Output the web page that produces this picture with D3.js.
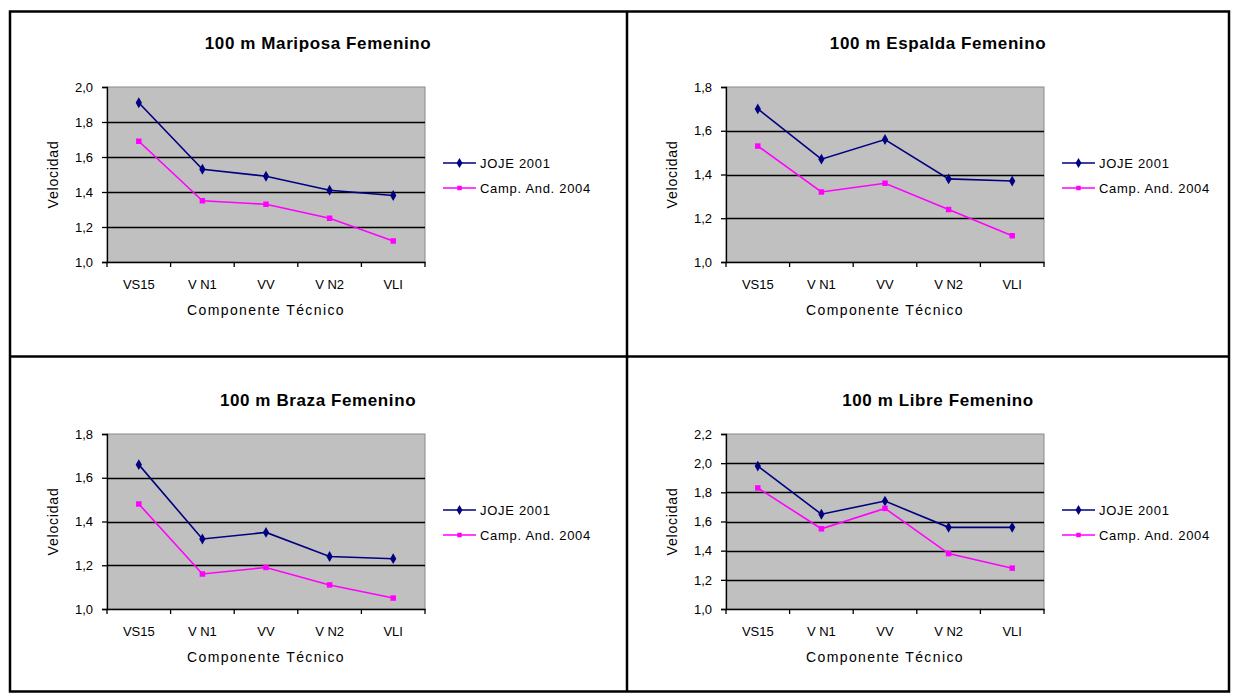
<!DOCTYPE html>
<html>
<head>
<meta charset="utf-8">
<script src="https://cdn.jsdelivr.net/npm/d3@7/dist/d3.min.js"></script>
<style>
  html, body { margin: 0; padding: 0; background: #fff; }
  svg { display: block; font-family: "Liberation Sans", Arial, sans-serif; }
</style>
</head>
<body>
<svg id="chart" width="1236" height="699"></svg>
<script>
// Technical component categories (x axis)
const categories = ["VS15", "V N1", "VV", "V N2", "VLI"];
const seriesNames = ["JOJE 2001", "Camp. And. 2004"];

// 100 m Mariposa Femenino
const mariposaJoje = [1.91, 1.53, 1.49, 1.41, 1.38];
const mariposaCamp = [1.69, 1.35, 1.33, 1.25, 1.12];
// 100 m Espalda Femenino
const espaldaJoje = [1.70, 1.47, 1.56, 1.38, 1.37];
const espaldaCamp = [1.53, 1.32, 1.36, 1.24, 1.12];
// 100 m Braza Femenino
const brazaJoje = [1.66, 1.32, 1.35, 1.24, 1.23];
const brazaCamp = [1.48, 1.16, 1.19, 1.11, 1.05];
// 100 m Libre Femenino
const libreJoje = [1.98, 1.65, 1.74, 1.56, 1.56];
const libreCamp = [1.83, 1.55, 1.69, 1.38, 1.28];

// y-axis tick labels for each chart
const ticksMariposa = [1.0, 1.2, 1.4, 1.6, 1.8, 2.0];
const ticksEspalda = [1.0, 1.2, 1.4, 1.6, 1.8];
const ticksBraza = [1.0, 1.2, 1.4, 1.6, 1.8];
const ticksLibre = [1.0, 1.2, 1.4, 1.6, 1.8, 2.0, 2.2];

const titles = ["100 m Mariposa Femenino", "100 m Espalda Femenino",
                "100 m Braza Femenino", "100 m Libre Femenino"];

const charts = [
  { title: titles[0], joje: mariposaJoje, camp: mariposaCamp, ticks: ticksMariposa, col: 0, row: 0 },
  { title: titles[1], joje: espaldaJoje, camp: espaldaCamp, ticks: ticksEspalda, col: 1, row: 0 },
  { title: titles[2], joje: brazaJoje, camp: brazaCamp, ticks: ticksBraza, col: 0, row: 1 },
  { title: titles[3], joje: libreJoje, camp: libreCamp, ticks: ticksLibre, col: 1, row: 1 }
];

const colors = ["#000080", "#ff00ff"];
const svg = d3.select("#chart");
const comma = v => d3.format(".1f")(v).replace(".", ",");

// Layout of the 2x2 table
const colX = [107, 726];
const rowY = [87, 434];
const plotW = 318, plotH = 175;
const titleY = [43, 400];

charts.forEach(c => {
  const x0 = colX[c.col], y0 = rowY[c.row];
  const g = svg.append("g").attr("transform", `translate(${x0},${y0})`);

  const x = d3.scaleBand().domain(categories).range([0, plotW]).paddingInner(0).paddingOuter(0);
  const y = d3.scaleLinear().domain(d3.extent(c.ticks)).range([plotH, 0]);

  // plot area
  g.append("rect").attr("x", 0).attr("y", 0).attr("width", plotW).attr("height", plotH)
    .attr("fill", "#c0c0c0").attr("stroke", "#8a8a8a").attr("stroke-width", 1);

  // horizontal gridlines
  g.append("g").selectAll("line").data(c.ticks.slice(1, -1)).join("line")
    .attr("x1", 0).attr("x2", plotW)
    .attr("y1", d => Math.round(y(d)) + 0.5).attr("y2", d => Math.round(y(d)) + 0.5)
    .attr("stroke", "#000").attr("stroke-width", 1.3);

  // y axis
  const ya = g.append("g").call(d3.axisLeft(y).tickValues(c.ticks).tickSize(5).tickPadding(9).tickFormat(comma));
  ya.select(".domain").attr("stroke", "#000").attr("stroke-width", 1.3);
  ya.selectAll(".tick line").attr("stroke", "#000").attr("stroke-width", 1.3);
  ya.selectAll("text").attr("font-size", 13).attr("fill", "#000").attr("font-family", "Liberation Sans, Arial, sans-serif");

  // x axis with ticks on category boundaries
  const xa = g.append("g").attr("transform", `translate(0,${plotH})`)
    .call(d3.axisBottom(x).tickSize(0).tickPadding(18));
  xa.select(".domain").attr("stroke", "#000").attr("stroke-width", 1.3);
  xa.selectAll("text").attr("font-size", 13).attr("fill", "#000").attr("font-family", "Liberation Sans, Arial, sans-serif");
  const bounds = categories.map(d => x(d)).concat([x(categories[categories.length - 1]) + x.bandwidth()]);
  g.append("g").selectAll("line").data(bounds).join("line")
    .attr("x1", d => d).attr("x2", d => d).attr("y1", plotH).attr("y2", plotH + 5)
    .attr("stroke", "#000").attr("stroke-width", 1.3);

  // series lines and markers
  const cx = d => x(d) + x.bandwidth() / 2;
  [c.joje, c.camp].forEach((vals, si) => {
    const pts = categories.map((cat, i) => [cx(cat), y(vals[i])]);
    g.append("path").attr("d", d3.line()(pts)).attr("fill", "none")
      .attr("stroke", colors[si]).attr("stroke-width", 1.6);
    const sym = si === 0 ? d3.symbolDiamond : d3.symbolSquare;
    const size = si === 0 ? 34 : 30;
    g.append("g").selectAll("path").data(pts).join("path")
      .attr("transform", p => `translate(${p[0]},${p[1]})`)
      .attr("d", d3.symbol().type(sym).size(size)).attr("fill", colors[si]);
  });

  // axis titles
  g.append("text").attr("transform", `translate(${-54},${plotH / 2}) rotate(-90)`)
    .attr("text-anchor", "middle").attr("dy", "0.35em").attr("font-size", 14)
    .attr("letter-spacing", 0.8).text("Velocidad");
  g.append("text").attr("x", plotW / 2).attr("y", plotH + 48).attr("text-anchor", "middle")
    .attr("dy", "0.35em").attr("font-size", 14).attr("letter-spacing", 1.4).text("Componente Técnico");

  // chart title
  svg.append("text").attr("x", c.col === 0 ? 318 : 938).attr("y", titleY[c.row])
    .attr("text-anchor", "middle").attr("dy", "0.35em").attr("font-size", 17)
    .attr("font-weight", "bold").attr("letter-spacing", 0.6).text(c.title);

  // legend
  const lx = plotW + 18, ly = 76;
  seriesNames.forEach((name, si) => {
    const yy = ly + si * 25;
    g.append("line").attr("x1", lx).attr("x2", lx + 33).attr("y1", yy).attr("y2", yy)
      .attr("stroke", colors[si]).attr("stroke-width", 1.6);
    g.append("path").attr("transform", `translate(${lx + 16.5},${yy})`)
      .attr("d", d3.symbol().type(si === 0 ? d3.symbolDiamond : d3.symbolSquare).size(si === 0 ? 30 : 20))
      .attr("fill", colors[si]);
    g.append("text").attr("x", lx + 37).attr("y", yy).attr("dy", "0.35em")
      .attr("font-size", 13).attr("letter-spacing", 0.7).text(name);
  });
});

// table borders
const border = svg.append("g").attr("stroke", "#000").attr("stroke-width", 2.5).attr("fill", "none");
border.append("rect").attr("x", 10).attr("y", 11.5).attr("width", 1219).attr("height", 680);
border.append("line").attr("x1", 627).attr("x2", 627).attr("y1", 11.5).attr("y2", 691.5);
border.append("line").attr("x1", 10).attr("x2", 1229).attr("y1", 356.5).attr("y2", 356.5);
</script>
</body>
</html>
